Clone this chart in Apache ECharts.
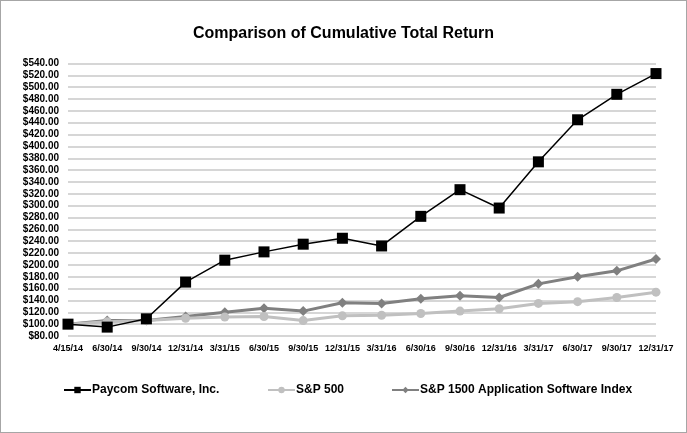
<!DOCTYPE html>
<html><head><meta charset="utf-8">
<script src="https://cdn.jsdelivr.net/npm/echarts@6/dist/echarts.min.js"></script>
<style>html,body{margin:0;padding:0;background:#fff}#c{width:687px;height:433px;box-sizing:border-box;border:1px solid #a6a6a6}</style>
</head><body><div id="c"></div>
<script>
const categories = ['4/15/14','6/30/14','9/30/14','12/31/14','3/31/15','6/30/15','9/30/15','12/31/15','3/31/16','6/30/16','9/30/16','12/31/16','3/31/17','6/30/17','9/30/17','12/31/17'];
const paycom = [100, 95, 109, 171, 208, 222, 235, 245, 232, 282, 327, 296, 374, 445, 488, 523];
const sp500 = [100, 104, 106, 110, 112, 113, 106, 114, 115, 118, 122, 126, 135, 138, 145, 154];
const sp1500App = [100, 106, 106, 113, 120, 127, 122, 136, 135, 143, 148, 145, 168, 180, 190, 210];
const seriesNames = ['Paycom Software, Inc.', 'S&P 500', 'S&P 1500 Application Software Index'];

const chart = echarts.init(document.getElementById('c'));
const font = 'Liberation Sans, Arial, sans-serif';
const legendBase = {top: 378, itemWidth: 27, itemHeight: 8, itemGap: 2, textStyle: {fontFamily: font, fontWeight: 'bold', fontSize: 12, color: '#000', padding: [0, 0, 0, -4]}};
chart.setOption({
  animation: false,
  title: {text: 'Comparison of Cumulative Total Return', left: 'center', top: 20, textStyle: {fontFamily: font, fontWeight: 'bold', fontSize: 16, color: '#000'}},
  legend: [
    Object.assign({left: 57, data: [seriesNames[0]]}, legendBase),
    Object.assign({left: 261, data: [seriesNames[1]]}, legendBase),
    Object.assign({left: 385, data: [seriesNames[2]]}, legendBase)
  ],
  grid: {left: 67, right: 30, top: 62.5, bottom: 96},
  xAxis: {type: 'category', data: categories, boundaryGap: false,
    axisLine: {show: false}, axisTick: {show: false},
    axisLabel: {interval: 0, fontFamily: font, fontWeight: 'bold', fontSize: 9, color: '#000', margin: 8}},
  yAxis: {type: 'value', min: 80, max: 540, interval: 20,
    axisLine: {show: false}, axisTick: {show: false},
    splitLine: {lineStyle: {color: '#c8c8c8', width: 1.5}},
    axisLabel: {fontFamily: font, fontWeight: 'bold', fontSize: 10, color: '#000', margin: 9,
      formatter: v => '$' + v.toFixed(2)}},
  series: [
    {name: seriesNames[2], type: 'line', data: sp1500App, symbol: 'diamond', symbolSize: 10,
      itemStyle: {color: '#808080'}, lineStyle: {color: '#808080', width: 3}, z: 2},
    {name: seriesNames[1], type: 'line', data: sp500, symbol: 'circle', symbolSize: 9,
      itemStyle: {color: '#c0c0c0'}, lineStyle: {color: '#c0c0c0', width: 3}, z: 3},
    {name: seriesNames[0], type: 'line', data: paycom, symbol: 'rect', symbolSize: 11,
      itemStyle: {color: '#000'}, lineStyle: {color: '#000', width: 1.5}, z: 4}
  ]
});
</script></body></html>
